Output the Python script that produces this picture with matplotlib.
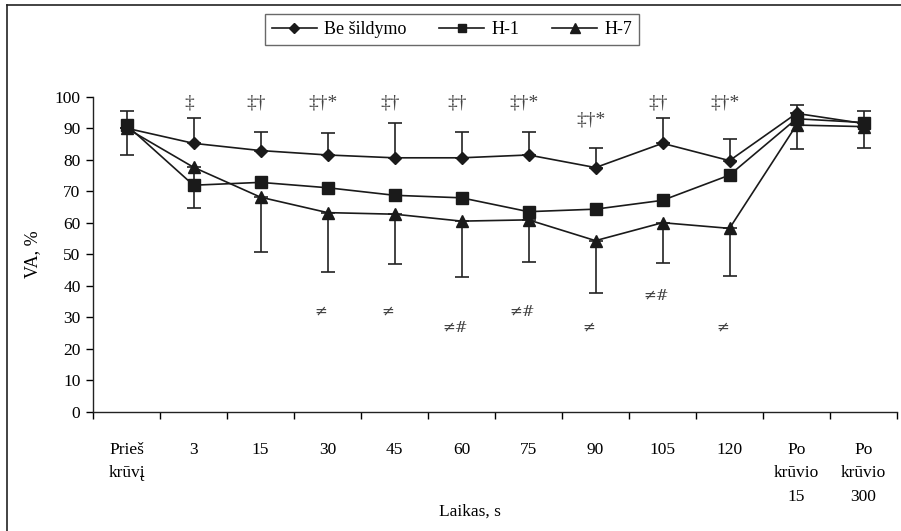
import numpy as np
import matplotlib
matplotlib.use("Agg")
import matplotlib.pyplot as plt
from matplotlib.lines import Line2D

plt.rcParams['font.family'] = ['Liberation Serif', 'DejaVu Serif']

# categories on the x axis
categories = ['Prieš\nkrūvį', '3', '15', '30', '45', '60', '75', '90', '105', '120',
              'Po\nkrūvio\n15', 'Po\nkrūvio\n300']

# mean values
be_sildymo = [90.0, 85.2, 82.9, 81.5, 80.6, 80.6, 81.5, 77.5, 85.2, 79.7, 94.7, 91.5]
h1 = [91.0, 71.9, 72.8, 71.1, 68.7, 67.9, 63.5, 64.3, 67.1, 75.1, 93.0, 91.8]
h7 = [90.0, 77.6, 68.1, 63.2, 62.7, 60.5, 60.9, 54.3, 60.0, 58.2, 91.0, 90.5]

# one sided SD bars: up for "Be sildymo", down for H-7
be_sd_up = [5.5, 8.1, 5.8, 6.9, 11.0, 8.1, 7.2, 6.1, 8.1, 6.8, 2.6, 4.0]
h7_sd_down = [8.5, 12.8, 17.4, 18.8, 15.9, 17.6, 13.3, 16.5, 12.8, 15.0, 7.6, 6.7]

# significance marks
top_marks = ['', '‡', '‡†', '‡†*', '‡†', '‡†', '‡†*', '‡†*', '‡†', '‡†*', '', '']
top_marks_y = [0, 98, 98, 98, 98, 98, 98, 92.5, 98, 98, 0, 0]
bottom_marks = ['', '', '', '≠', '≠', '≠#', '≠#', '≠', '≠#', '≠', '', '']
bottom_marks_y = [0, 0, 0, 31.7, 31.7, 26.7, 31.7, 26.7, 36.8, 26.7, 0, 0]

x = np.arange(len(categories))

fig = plt.figure(figsize=(9.01, 5.31), dpi=100)
ax = fig.add_axes([93 / 901, 1 - 411.7 / 531, (897 - 93) / 901, (411.7 - 96.7) / 531])

lw = 1.2
ax.errorbar(x, be_sildymo, yerr=[np.zeros(len(x)), be_sd_up], fmt='none',
            ecolor='#222222', elinewidth=lw, capsize=5, capthick=lw)
ax.errorbar(x, h7, yerr=[h7_sd_down, np.zeros(len(x))], fmt='none',
            ecolor='#222222', elinewidth=lw, capsize=5, capthick=lw)

ax.plot(x, be_sildymo, color='#1a1a1a', lw=lw, marker='D', ms=6, label='Be šildymo')
ax.plot(x, h1, color='#1a1a1a', lw=lw, marker='s', ms=8, label='H-1')
ax.plot(x, h7, color='#1a1a1a', lw=lw, marker='^', ms=9, label='H-7')

for i in range(len(x)):
    if top_marks[i]:
        ax.text(x[i] - 0.06, top_marks_y[i], top_marks[i], ha='center', va='center',
                fontsize=14, color='#444444')
    if bottom_marks[i]:
        ax.text(x[i] - 0.1, bottom_marks_y[i], bottom_marks[i], ha='center', va='center',
                fontsize=11, color='#444444', family=['DejaVu Serif'])

ax.set_xlim(-0.5, len(x) - 0.5)
ax.set_ylim(0, 100)
ax.set_yticks(range(0, 101, 10))
ax.set_xticks(x)
ax.set_xticklabels(categories, linespacing=1.6, va='top')
ax.set_xticks(np.arange(-0.5, len(x), 1), minor=True)
ax.tick_params(axis='x', which='major', length=0, pad=22, labelsize=12.5)
ax.tick_params(axis='x', which='minor', length=5, direction='out', width=1)
ax.tick_params(axis='y', length=5, width=1, labelsize=12.5, pad=4)
for s in ['top', 'right']:
    ax.spines[s].set_visible(False)
for s in ['left', 'bottom']:
    ax.spines[s].set_linewidth(1)
    ax.spines[s].set_color('#222222')

ax.set_ylabel('VA, %', fontsize=13, labelpad=10)
fig.text(470 / 901, 1 - 512 / 531, 'Laikas, s', ha='center', va='center', fontsize=12.5)

handles = [Line2D([], [], color='#1a1a1a', lw=lw, marker=m, ms=s)
           for m, s in [('D', 5), ('s', 6), ('^', 7)]]
leg = fig.legend(handles, ['Be šildymo', 'H-1', 'H-7'], ncol=3, loc='center',
                 bbox_to_anchor=(452 / 901, 1 - 29.5 / 531), frameon=True, fancybox=False,
                 edgecolor='#444444', fontsize=13, handlelength=2.5, columnspacing=1.8,
                 handletextpad=0.4, borderpad=0.4)
leg.get_frame().set_linewidth(1)

# outer frame (left and top)
fig.add_artist(Line2D([7 / 901, 7 / 901], [0, 1 - 5 / 531], color='#222222', lw=1.2,
                      transform=fig.transFigure))
fig.add_artist(Line2D([7 / 901, 1], [1 - 5 / 531, 1 - 5 / 531], color='#222222', lw=1.2,
                      transform=fig.transFigure))

fig.savefig('out.png', dpi=100)
